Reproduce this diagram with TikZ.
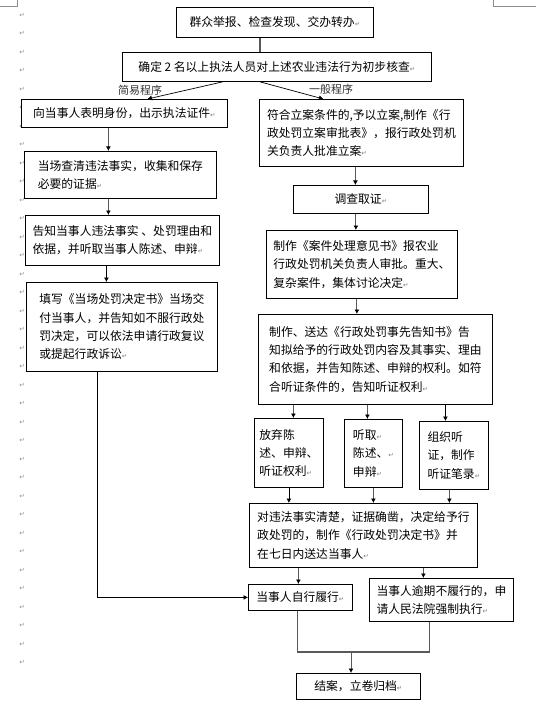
\documentclass[tikz,border=0pt]{standalone}
\usepackage{fontspec}
\setmainfont{Noto Sans CJK SC}
\newfontfamily\symfont{DejaVu Sans}
\usepackage{xcolor}
\usepackage{tikz}
\usetikzlibrary{arrows.meta, positioning, calc}

\newcommand{\ret}{{\symfont\fontsize{6.5}{6.5}\selectfont\color{gray}↵}}

\tikzset{
  box/.style={draw, fill=white, line width=0.8pt, anchor=north west, inner sep=0pt,
    align=left, font=\fontsize{11.8}{18.3}\selectfont},
  conn/.style={draw=black!65, line width=0.9pt},
  thinconn/.style={draw=black, line width=0.7pt},
  lbl/.style={font=\fontsize{11}{11}\selectfont, text=black!80, inner sep=0pt},
  retmark/.style={font=\symfont\fontsize{6.5}{6.5}\selectfont, text=black!45, inner sep=0pt}
}

\begin{document}
\begin{tikzpicture}[x=1pt, y=-1pt, >={Latex[length=4.5pt,width=5pt,color=black]}]
      \useasboundingbox (0,0) rectangle (536,714);

      % page corner marks and paragraph marks
      \draw[black!45, line width=0.6pt] (0,6) -- (17,6) -- (17,0);
      \draw[black!45, line width=0.6pt] (493,0) -- (493,6) -- (536,6);
      \foreach \i in {0,...,35}
        \node[retmark] (m\i) at (22,{15+18.5*\i}) {↵};

      % top
      \node[box, minimum width=197pt, minimum height=30pt] (report) at (176,7) {群众举报、检查发现、交办转办\ret};
      \node[box, minimum width=309pt, minimum height=29pt] (check) at (122,52) {确定 2 名以上执法人员对上述农业违法行为初步核查\ret};

      % simple procedure
      \node[box, minimum width=206pt, minimum height=28pt] (identity) at (21,99) {向当事人表明身份，出示执法证件\ret};
      \node[box, minimum width=192pt, minimum height=47pt] (onsite) at (24,151) {当场查清违法事实，收集和保存\\必要的证据\ret};
      \node[box, minimum width=194pt, minimum height=50pt] (inform) at (25,215) {告知当事人违法事实 、处罚理由和\\依据，并听取当事人陈述、申辩\ret};
      \node[box, minimum width=191pt, minimum height=89pt] (decide) at (26,282) {填写《当场处罚决定书》当场交\\付当事人，并告知如不服行政处\\罚决定，可以依法申请行政复议\\或提起行政诉讼\ret};

      % general procedure
      \node[box, minimum width=204pt, minimum height=67pt] (case) at (259,99) {符合立案条件的,予以立案,制作《行\\政处罚立案审批表》，报行政处罚机\\关负责人批准立案\ret};
      \node[box, minimum width=135pt, minimum height=28pt] (survey) at (293,185) {调查取证\ret};
      \node[box, minimum width=191pt, minimum height=68pt] (opinion) at (266,230) {制作《案件处理意见书》报农业\\行政处罚机关负责人审批。重大、\\复杂案件，集体讨论决定\ret};
      \node[box, minimum width=234pt, minimum height=90pt] (notice) at (258,314) {制作、送达《行政处罚事先告知书》告\\知拟给予的行政处罚内容及其事实、理由\\和依据，并告知陈述、申辩的权利。如符\\合听证条件的，告知听证权利\ret};

      \node[box, minimum width=69pt, minimum height=69pt] (waive) at (254,418) {放弃陈\\述、申辩、\\听证权利\ret};
      \node[box, minimum width=58pt, minimum height=68pt] (hear) at (344,419) {听取\ret\\陈述、\ret\\申辩\ret};
      \node[box, minimum width=69pt, minimum height=68pt] (hearing) at (419,421) {组织听\\证，制作\\听证笔录\ret};

      \node[box, minimum width=228pt, minimum height=64pt] (penalty) at (249,503) {对违法事实清楚，证据确凿，决定给予行\\政处罚的，制作《行政处罚决定书》并\\在七日内送达当事人\ret};
      \node[box, minimum width=104pt, minimum height=26pt] (self) at (248,584) {当事人自行履行\ret};
      \node[box, minimum width=144pt, minimum height=43pt] (enforce) at (369,578) {当事人逾期不履行的，申\\请人民法院强制执行\ret};
      \node[box, minimum width=124pt, minimum height=26pt] (close) at (296,673) {结案，立卷归档\ret};

      % labels
      \node[lbl] (simplelbl) at (140,90) {简易程序};
      \node[lbl] (generallbl) at (331,89) {一般程序};

      % report to check
      \draw[conn, line width=1.4pt] ([xshift=-15pt]report.south) -- ([xshift=-15pt]report.south |- check.north);
      % check to both procedures
      \draw[thinconn, ->] ([xshift=-54pt]check.south) -- ([xshift=23pt]identity.north);
      \draw[thinconn, ->] ([xshift=-17pt]check.south) -- ([xshift=-38pt]case.north);

      % simple procedure chain
      \draw[conn, ->] ([xshift=-16pt]identity.south) -- ([xshift=-16pt]identity.south |- onsite.north);
      \draw[conn, ->] ([xshift=-12pt]onsite.south) -- ([xshift=-12pt]onsite.south |- inform.north);
      \draw[thinconn, ->] ([xshift=-16pt]inform.south) -- ([xshift=-16pt]inform.south |- decide.north);
      \draw[thinconn, ->] ([xshift=-25pt]decide.south) |- (self.west);

      % general procedure chain
      \draw[conn, ->] ([xshift=-6pt]case.south) -- ([xshift=-6pt]case.south |- survey.north);
      \draw[conn, ->] ([xshift=-5pt]survey.south) -- ([xshift=-5pt]survey.south |- opinion.north);
      \draw[conn, ->] ([xshift=-5pt]opinion.south) -- ([xshift=-5pt]opinion.south |- notice.north);

      % notice to the three options
      \draw[conn, ->] ([xshift=4.5pt]waive.north |- notice.south) -- ([xshift=4.5pt]waive.north);
      \draw[conn, ->] ([xshift=-6pt]hear.north |- notice.south) -- ([xshift=-6pt]hear.north);
      \draw[thinconn, ->] ([xshift=-8.5pt]hearing.north |- notice.south) -- ([xshift=-8.5pt]hearing.north);

      % options to penalty
      \draw[thinconn, ->] (waive.south) -- (waive.south |- penalty.north);
      \draw[conn, ->] (hear.south) -- (hear.south |- penalty.north);
      \draw[conn, ->] ([xshift=-4.5pt]hearing.south) -- ([xshift=-4.5pt]hearing.south |- penalty.north);

      % penalty to execution
      \draw[conn, ->] ([xshift=-2pt]self.north |- penalty.south) -- ([xshift=-2pt]self.north);
      \draw[conn, ->] ([xshift=-18pt]enforce.north |- penalty.south) -- ([xshift=-18pt]enforce.north);

      % execution to close
      \coordinate (join) at (351,652);
      \draw[conn, line width=1.3pt] ([xshift=-3pt]self.south) |- (join) -| ([xshift=-12pt]enforce.south);
      \draw[conn, ->] (join) -- (join |- close.north);
\end{tikzpicture}
\end{document}
